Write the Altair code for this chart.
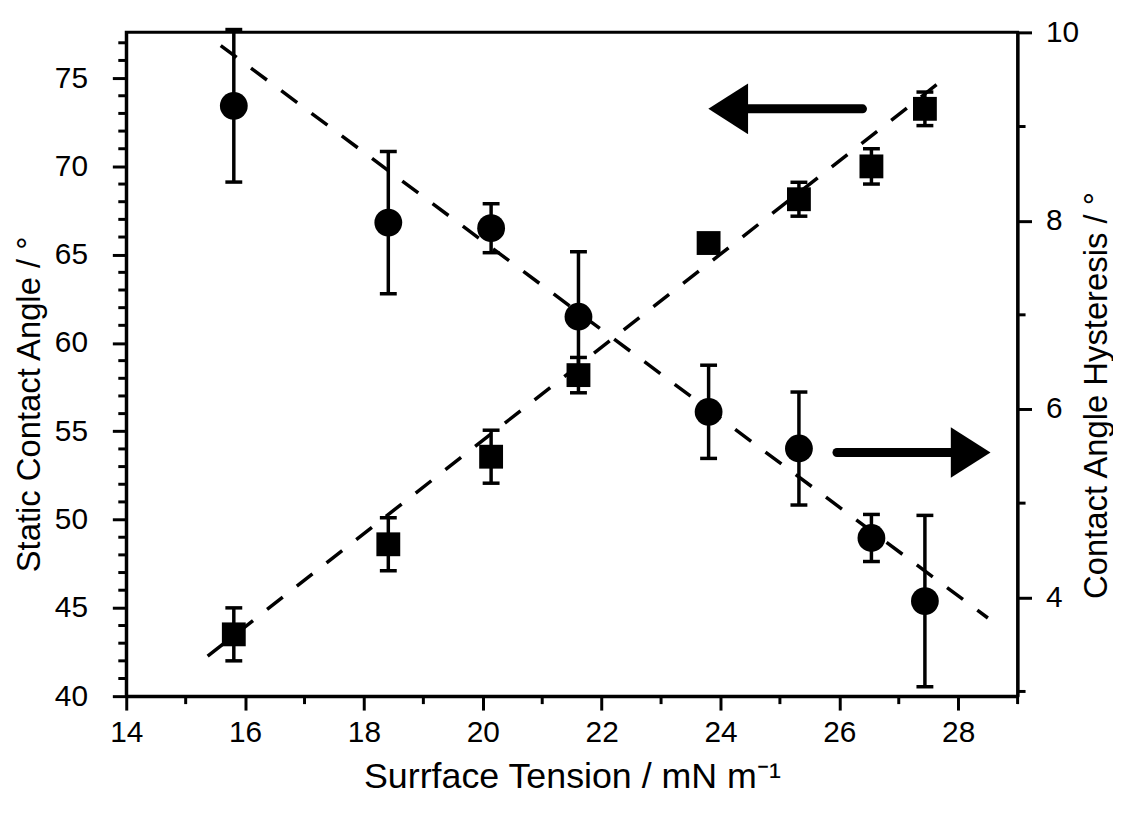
import altair as alt
import pandas as pd

# ---- data ----
tension = [15.81, 18.41, 20.14, 21.61, 23.80, 25.32, 26.54, 27.44]
static_angle = [43.5, 48.6, 53.56, 58.18, 65.66, 68.14, 70.0, 73.26]
static_err = [1.5, 1.5, 1.5, 1.0, 0.4, 0.96, 1.0, 0.95]
hysteresis = [9.22, 7.98, 7.92, 6.98, 5.97, 5.58, 4.63, 3.96]
hyst_err = [0.81, 0.755, 0.26, 0.69, 0.495, 0.6, 0.25, 0.91]

static_fit_x = [15.37, 27.68]
static_fit_y = [42.27, 74.74]
hyst_fit_x = [15.59, 28.50]
hyst_fit_y = [9.86, 3.78]

# arrows (in static-angle coordinates)
arrow_left = {"x1": 24.42, "x2": 26.39, "y": 73.26, "head": 24.13}
arrow_right = {"x1": 25.96, "x2": 27.93, "y": 53.80, "head": 28.21}

x_major = [14, 16, 18, 20, 22, 24, 26, 28]
x_minor = [15, 17, 19, 21, 23, 25, 27, 29]
yl_major = [40, 45, 50, 55, 60, 65, 70, 75]
yl_minor = [v for v in range(41, 78) if v % 5 != 0]
yr_major = [4, 6, 8, 10]
yr_minor = [3, 5, 7, 9]

W, H = 897, 668
FONT = "Liberation Sans"
TICK_FS = 30
XTITLE_FS = 36
YTITLE_FS = 33

df_s = pd.DataFrame({"x": tension, "y": static_angle,
                     "lo": [a - e for a, e in zip(static_angle, static_err)],
                     "hi": [a + e for a, e in zip(static_angle, static_err)]})
df_h = pd.DataFrame({"x": tension, "y": hysteresis,
                     "lo": [a - e for a, e in zip(hysteresis, hyst_err)],
                     "hi": [a + e for a, e in zip(hysteresis, hyst_err)]})
fit_s = pd.DataFrame({"x": static_fit_x, "y": static_fit_y})
fit_h = pd.DataFrame({"x": hyst_fit_x, "y": hyst_fit_y})
arr_l = pd.DataFrame([arrow_left])
arr_r = pd.DataFrame([arrow_right])
xmin_df = pd.DataFrame({"x": x_minor})
ylmin_df = pd.DataFrame({"y": yl_minor})
yrmin_df = pd.DataFrame({"y": yr_minor})

xscale = alt.Scale(domain=[14, 29], nice=False, zero=False)
ylscale = alt.Scale(domain=[40, 77.59], nice=False, zero=False)
yrscale = alt.Scale(domain=[2.95, 10], nice=False, zero=False)

common = dict(tickSize=14, tickWidth=3, domainWidth=3, grid=False, format="d",
              labelFontSize=TICK_FS, labelFont=FONT, titleFont=FONT,
              titleFontWeight="normal", labelColor="black", titleColor="black",
              domainColor="black", tickColor="black", labelOverlap=False,
              labelFlush=False)

xaxis = alt.Axis(values=x_major, labelPadding=8,
                 title="Surrface Tension / mN m\u207b\u00b9", titleFontSize=XTITLE_FS,
                 titleX=W / 2, titleY=92, titleAlign="center",
                 titleBaseline="alphabetic", **common)
ylaxis = alt.Axis(values=yl_major, orient="left", labelPadding=25,
                  title="Static Contact Angle / \u00b0", titleFontSize=YTITLE_FS,
                  titleX=-87, titleY=374, titleAngle=270, titleAlign="center",
                  titleBaseline="alphabetic", **common)
yraxis = alt.Axis(values=yr_major, orient="right", labelPadding=14,
                  title="Contact Angle Hysteresis / \u00b0", titleFontSize=YTITLE_FS,
                  titleX=89, titleY=365, titleAngle=270, titleAlign="center",
                  titleBaseline="alphabetic", **common)

X = alt.X("x:Q", scale=xscale, axis=xaxis)


def YL(field):
    return alt.Y(field, type="quantitative", scale=ylscale, axis=ylaxis)


def YR(field):
    return alt.Y(field, type="quantitative", scale=yrscale, axis=yraxis)


# ---------- left (static contact angle) group ----------
s_bar = alt.Chart(df_s).mark_rule(color="black", strokeWidth=3.5).encode(
    x=X, y=YL("lo"), y2="hi")
s_cap_lo = alt.Chart(df_s).mark_tick(color="black", orient="horizontal",
                                     size=17, thickness=3.5, opacity=1).encode(x=X, y=YL("lo"))
s_cap_hi = alt.Chart(df_s).mark_tick(color="black", orient="horizontal",
                                     size=17, thickness=3.5, opacity=1).encode(x=X, y=YL("hi"))
s_pts = alt.Chart(df_s).mark_point(shape="square", filled=True, size=576,
                                   color="black", opacity=1).encode(x=X, y=YL("y"))
s_fit = alt.Chart(fit_s).mark_line(color="black", strokeWidth=3.5,
                                   strokeDash=[20, 18]).encode(x=X, y=YL("y"))
a_l_shaft = alt.Chart(arr_l).mark_rule(color="black", strokeWidth=9,
                                       strokeCap="round").encode(
    x=alt.X("x1:Q", scale=xscale, axis=xaxis), x2="x2", y=YL("y"))
a_l_head = alt.Chart(arr_l).mark_point(shape="M-0.784,0L0.784,-1L0.784,1Z",
                                       filled=True, size=2601, color="black",
                                       opacity=1).encode(
    x=alt.X("head:Q", scale=xscale, axis=xaxis), y=YL("y"))
a_r_shaft = alt.Chart(arr_r).mark_rule(color="black", strokeWidth=9,
                                       strokeCap="round").encode(
    x=alt.X("x1:Q", scale=xscale, axis=xaxis), x2="x2", y=YL("y"))
a_r_head = alt.Chart(arr_r).mark_point(shape="M0.784,0L-0.784,-1L-0.784,1Z",
                                       filled=True, size=2601, color="black",
                                       opacity=1).encode(
    x=alt.X("head:Q", scale=xscale, axis=xaxis), y=YL("y"))
yl_minor_ticks = alt.Chart(ylmin_df).mark_rule(color="black", strokeWidth=3).encode(
    x=alt.value(0), x2=alt.value(-8), y=YL("y"))
x_minor_ticks = alt.Chart(xmin_df).mark_rule(color="black", strokeWidth=3).encode(
    x=X, y=alt.value(H), y2=alt.value(H + 8))

left = alt.layer(s_fit, s_bar, s_cap_lo, s_cap_hi, s_pts, a_l_shaft, a_l_head,
                 a_r_shaft, a_r_head, yl_minor_ticks, x_minor_ticks)

# ---------- right (hysteresis) group ----------
h_bar = alt.Chart(df_h).mark_rule(color="black", strokeWidth=3.5).encode(
    x=X, y=YR("lo"), y2="hi")
h_cap_lo = alt.Chart(df_h).mark_tick(color="black", orient="horizontal",
                                     size=17, thickness=3.5, opacity=1).encode(x=X, y=YR("lo"))
h_cap_hi = alt.Chart(df_h).mark_tick(color="black", orient="horizontal",
                                     size=17, thickness=3.5, opacity=1).encode(x=X, y=YR("hi"))
h_pts = alt.Chart(df_h).mark_point(shape="circle", filled=True, size=784,
                                   color="black", opacity=1).encode(x=X, y=YR("y"))
h_fit = alt.Chart(fit_h).mark_line(color="black", strokeWidth=3.5,
                                   strokeDash=[20, 18]).encode(x=X, y=YR("y"))
yr_minor_ticks = alt.Chart(yrmin_df).mark_rule(color="black", strokeWidth=3).encode(
    x=alt.value(W), x2=alt.value(W + 8), y=YR("y"))

right = alt.layer(h_fit, h_bar, h_cap_lo, h_cap_hi, h_pts, yr_minor_ticks)

chart = alt.layer(left, right).resolve_scale(y="independent").properties(
    width=W, height=H,
    autosize=alt.AutoSizeParams(type="none"),
    padding={"left": 119, "top": 22, "right": 96, "bottom": 105},
    background="white",
).configure_view(
    stroke="black", strokeWidth=3
).configure_axis(
    tickSize=14, labelFontSize=TICK_FS,
)

chart.save("out.html", embed_options={"renderer": "svg", "actions": False})
